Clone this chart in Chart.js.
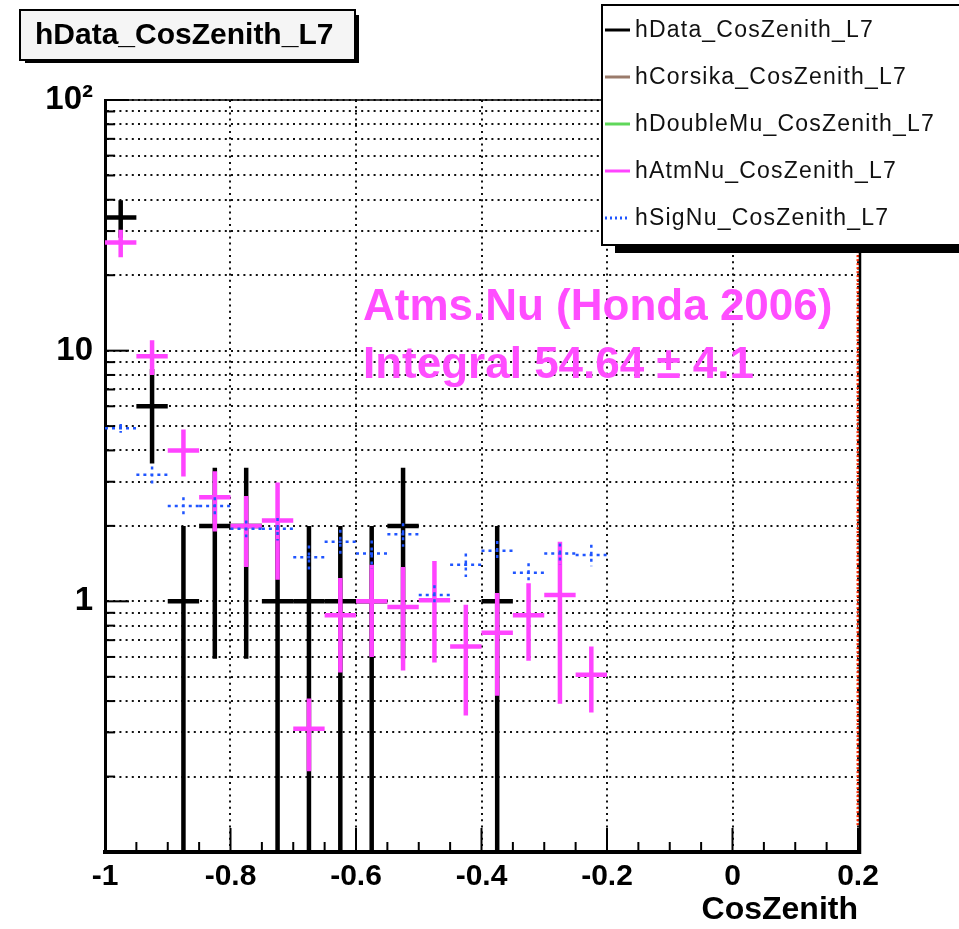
<!DOCTYPE html>
<html>
<head>
<meta charset="utf-8">
<title>hData_CosZenith_L7</title>
<script src="https://cdn.jsdelivr.net/npm/chart.js@4.4.1/dist/chart.umd.min.js"></script>
<style>
    html, body { margin: 0; padding: 0; background: #fff; }
    canvas { display: block; }
</style>
</head>
<body>
<canvas id="chart" width="959" height="929"></canvas>
<script>
// bin centres of the CosZenith histograms (bin width 0.05)
const binCenters = [-0.975, -0.925, -0.875, -0.825, -0.775, -0.725, -0.675, -0.625,
                    -0.575, -0.525, -0.475, -0.425, -0.375, -0.325, -0.275, -0.225];
const binWidth = 0.05;

// hData (0 = empty bin, not drawn)
const dataCounts = [34, 6, 1, 2, 2, 1, 1, 1, 1, 2, 0, 0, 1, 0, 0, 0];
const dataErrors = [5.8, 2.45, 1, 1.41, 1.41, 1, 1, 1, 1, 1.41, 0, 0, 1, 0, 0, 0];

// hAtmNu
const atmNuValues = [27, 9.5, 4.0, 2.6, 2.0, 2.1, 0.31, 0.88, 1.0, 0.95, 1.01, 0.66, 0.75, 0.88, 1.06, 0.51];
const atmNuErrors = [3.4, 1.5, 0.85, 0.7, 0.63, 0.88, 0.1, 0.36, 0.4, 0.42, 0.44, 0.31, 0.33, 0.3, 0.67, 0.15];

// hSigNu
const sigNuValues = [4.9, 3.2, 2.4, 2.4, 1.95, 1.95, 1.5, 1.73, 1.55, 1.85, 1.06, 1.4, 1.59, 1.3, 1.55, 1.53];
const sigNuErrors = [0.2, 0.25, 0.2, 0.2, 0.15, 0.2, 0.17, 0.2, 0.2, 0.2, 0.1, 0.15, 0.15, 0.12, 0.15, 0.15];

// axes
const xTicks = [-1, -0.8, -0.6, -0.4, -0.2, 0, 0.2];
const xTickLabels = ['-1', '-0.8', '-0.6', '-0.4', '-0.2', '0', '0.2'];
const yTicks = [0.1, 0.2, 0.3, 0.4, 0.5, 0.6, 0.7, 0.8, 0.9,
                1, 2, 3, 4, 5, 6, 7, 8, 9,
                10, 20, 30, 40, 50, 60, 70, 80, 90, 100];
const yTickLabels = { 1: '1', 10: '10', 100: '10²' };

const FONT = '"Liberation Sans", Arial, Helvetica, sans-serif';
Chart.defaults.font.family = FONT;
Chart.defaults.color = '#000';

function points(values, errors) {
    return binCenters.map((c, i) => ({ x: c, y: values[i], e: errors[i] }))
        .filter(p => p.y > 0);
}

// vertical + horizontal error bars, ROOT "E" style
const histPlugin = {
    id: 'histBars',
    afterDatasetsDraw(chart) {
        const { ctx, chartArea: a, scales: { x, y } } = chart;
        ctx.save();
        ctx.beginPath();
        ctx.rect(a.left, a.top, a.right - a.left, a.bottom - a.top);
        ctx.clip();
        chart.data.datasets.forEach(ds => {
            if (!ds.hist) return;
            ctx.strokeStyle = ds.borderColor;
            ctx.lineWidth = ds.barWidth;
            ctx.setLineDash(ds.dash || []);
            ds.data.forEach(p => {
                const px = x.getPixelForValue(p.x);
                const x0 = x.getPixelForValue(p.x - binWidth / 2);
                const x1 = x.getPixelForValue(p.x + binWidth / 2);
                const py = y.getPixelForValue(p.y);
                const yTop = y.getPixelForValue(p.y + p.e);
                const yBot = p.y - p.e > 0 ? y.getPixelForValue(p.y - p.e) : a.bottom;
                ctx.beginPath();
                ctx.moveTo(x0, py); ctx.lineTo(x1, py);
                ctx.moveTo(px, yTop); ctx.lineTo(px, yBot);
                ctx.stroke();
            });
        });
        ctx.restore();
    }
};

// inner ticks and frame
const framePlugin = {
    id: 'frame',
    beforeDatasetsDraw(chart) {
        const { ctx, chartArea: a, scales: { x, y } } = chart;
        ctx.save();
        ctx.strokeStyle = '#000';
        ctx.lineWidth = 2;
        for (let k = 0; k <= 24; k++) {
            const px = x.getPixelForValue(-1 + k * binWidth);
            const len = k % 4 === 0 ? 24 : 10;
            ctx.beginPath();
            ctx.moveTo(px, a.bottom); ctx.lineTo(px, a.bottom - len);
            ctx.stroke();
        }
        yTicks.forEach(v => {
            const py = y.getPixelForValue(v);
            const len = yTickLabels[v] ? 24 : 10;
            ctx.beginPath();
            ctx.moveTo(a.left, py); ctx.lineTo(a.left + len, py);
            ctx.stroke();
        });
        ctx.lineWidth = 1.5;
        ctx.beginPath();
        ctx.moveTo(a.left, a.top); ctx.lineTo(a.right, a.top);
        ctx.stroke();
        ctx.restore();
    },
    afterDatasetsDraw(chart) {
        const { ctx, chartArea: a } = chart;
        ctx.save();
        ctx.strokeStyle = '#000';
        ctx.lineWidth = 2.5;
        ctx.beginPath();
        ctx.moveTo(a.right + 2, a.top); ctx.lineTo(a.right + 2, a.bottom + 2);
        ctx.stroke();
        ctx.restore();
    }
};

// title box, legend, and the text
const decorPlugin = {
    id: 'decor',
    afterDraw(chart) {
        const ctx = chart.ctx;
        ctx.save();

        // title box
        ctx.fillStyle = '#000';
        ctx.fillRect(25, 15, 334, 48);
        ctx.fillStyle = '#f5f5f5';
        ctx.fillRect(20, 10, 335, 50);
        ctx.strokeStyle = '#000';
        ctx.lineWidth = 2;
        ctx.strokeRect(20, 10, 335, 50);
        ctx.fillStyle = '#000';
        ctx.font = 'bold 30px ' + FONT;
        ctx.textBaseline = 'alphabetic';
        ctx.fillText('hData_CosZenith_L7', 35, 44);

        // legend
        ctx.fillStyle = '#000';
        ctx.fillRect(615, 244, 350, 9);
        ctx.fillStyle = '#fff';
        ctx.fillRect(602, 5, 362, 240);
        ctx.strokeRect(602, 5, 362, 240);
        ctx.font = '23px ' + FONT;
        if ('letterSpacing' in ctx) ctx.letterSpacing = '1.2px';
        chart.data.datasets.filter(ds => ds.inLegend).forEach((ds, i) => {
            const base = 37 + i * 47;
            ctx.strokeStyle = ds.borderColor;
            ctx.lineWidth = 3;
            ctx.setLineDash(ds.dash ? [2, 3] : []);
            ctx.beginPath();
            ctx.moveTo(605, base - 7); ctx.lineTo(630, base - 7);
            ctx.stroke();
            ctx.fillStyle = '#111';
            ctx.fillText(ds.label, 635, base);
        });
        if ('letterSpacing' in ctx) ctx.letterSpacing = '0px';

        // annotation
        ctx.fillStyle = '#ff4dff';
        ctx.font = 'bold 44px ' + FONT;
        ctx.fillText('Atms.Nu (Honda 2006)', 363, 320);
        ctx.fillText('Integral 54.64 \u00b1 4.1', 363, 378);
        ctx.restore();
    }
};

const ctx = document.getElementById('chart').getContext('2d');
new Chart(ctx, {
    type: 'scatter',
    data: {
        datasets: [
            {
                label: 'hData_CosZenith_L7', hist: true, inLegend: true,
                data: points(dataCounts, dataErrors),
                borderColor: '#000', barWidth: 4.5, pointRadius: 0
            },
            {
                label: 'hCorsika_CosZenith_L7', hist: true, inLegend: true,
                data: [], borderColor: '#9a7b6b', barWidth: 4, pointRadius: 0
            },
            {
                label: 'hDoubleMu_CosZenith_L7', hist: true, inLegend: true,
                data: [], borderColor: '#5fd75a', barWidth: 4, pointRadius: 0
            },
            {
                label: 'hAtmNu_CosZenith_L7', hist: true, inLegend: true,
                data: points(atmNuValues, atmNuErrors),
                borderColor: '#ff44ff', barWidth: 4.5, pointRadius: 0
            },
            {
                label: 'hSigNu_CosZenith_L7', hist: true, inLegend: true,
                data: points(sigNuValues, sigNuErrors),
                borderColor: '#1f55ff', barWidth: 2.5, dash: [3, 4], pointRadius: 0
            },
            {
                label: 'edge', type: 'line', showLine: true,
                data: [{ x: 0.2, y: 0.128 }, { x: 0.2, y: 100 }],
                borderColor: '#ff2a00', borderWidth: 3, borderDash: [2, 2], pointRadius: 0,
                clip: 4
            }
        ]
    },
    options: {
        responsive: false,
        animation: false,
        layout: { padding: { top: 100, right: 101, left: 0, bottom: 0 } },
        plugins: { legend: { display: false }, tooltip: { enabled: false } },
        scales: {
            x: {
                type: 'linear', min: -1, max: 0.2,
                afterBuildTicks: axis => { axis.ticks = xTicks.map(v => ({ value: v })); },
                afterFit: axis => { axis.height = 77; },
                grid: { color: '#111', lineWidth: 2, drawTicks: false },
                border: { display: true, color: '#000', width: 4, dash: [2, 4.2] },
                ticks: {
                    autoSkip: false, maxRotation: 0, padding: 7,
                    font: { size: 30, weight: 'bold' },
                    callback: (v, i) => xTickLabels[i]
                },
                title: {
                    display: true, text: 'CosZenith', align: 'end',
                    font: { size: 32, weight: 'bold' }, padding: { top: 0, bottom: 0 }
                }
            },
            y: {
                type: 'logarithmic', min: 0.1, max: 100,
                afterBuildTicks: axis => { axis.ticks = yTicks.map(v => ({ value: v })); },
                afterFit: axis => { axis.width = 105; },
                grid: { color: '#111', lineWidth: 2, drawTicks: false },
                border: { display: true, color: '#000', width: 3, dash: [2, 4.2] },
                ticks: {
                    autoSkip: false, padding: 12,
                    font: { size: 33, weight: 'bold' },
                    callback: v => yTickLabels[v] || ''
                }
            }
        }
    },
    plugins: [framePlugin, histPlugin, decorPlugin]
});
</script>
</body>
</html>
